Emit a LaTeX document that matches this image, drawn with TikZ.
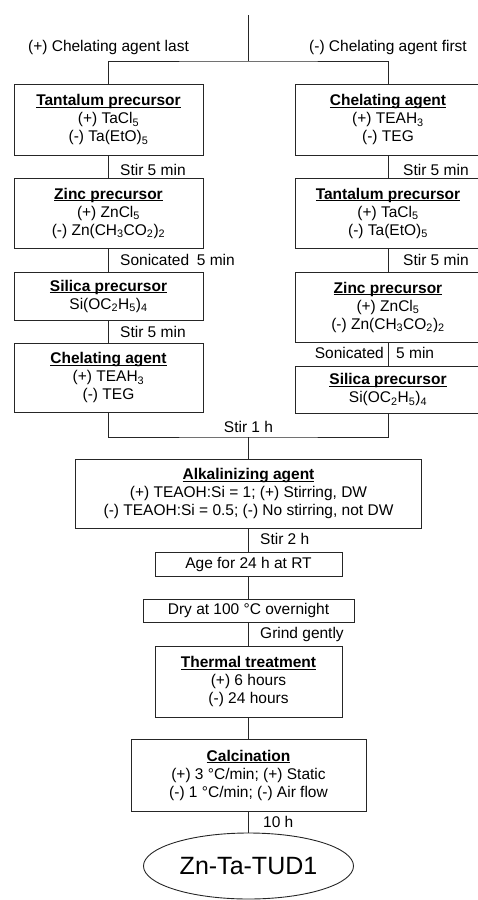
\documentclass[tikz,border=0pt]{standalone}
\usepackage{fontspec}
\setmainfont{Liberation Sans}
\usetikzlibrary{shapes.geometric}

\newcommand{\subs}[1]{\textsubscript{#1}}
\newcommand{\steptitle}[1]{\textbf{\underline{\smash{#1}}\vphantom{#1}}}

\tikzset{
  flowline/.style={draw=black!85, line width=0.9pt},
  stepbox/.style={flowline, rectangle, align=center, inner sep=0pt,
    font=\fontsize{15.5}{18}\selectfont},
  steptext/.style={inner sep=0pt, font=\fontsize{15.5}{18}\selectfont},
  leftbox/.style={stepbox, minimum width=189pt},
  rightbox/.style={stepbox, minimum width=186pt}
}

\begin{document}
\begin{tikzpicture}[x=1pt,y=-1pt]
  \useasboundingbox (0,0) rectangle (478,900);

  % branch labels
  \node[steptext, anchor=base] (lastlbl) at (108.5,51) {(+) Chelating agent last};
  \node[steptext, anchor=base] (firstlbl) at (388,51) {(-) Chelating agent first};

  % left column: chelating agent last
  \node[leftbox, minimum height=71pt] (lta) at (108.5,119.5)
    {\steptitle{Tantalum precursor}\\(+) TaCl\subs{5}\\(-) Ta(EtO)\subs{5}};
  \node[leftbox, minimum height=70pt] (lzn) at (108.5,213)
    {\steptitle{Zinc precursor}\\(+) ZnCl\subs{5}\\(-) Zn(CH\subs{3}CO\subs{2})\subs{2}};
  \node[leftbox, minimum height=48pt] (lsi) at (108.5,296)
    {\steptitle{Silica precursor}\\Si(OC\subs{2}H\subs{5})\subs{4}};
  \node[leftbox, minimum height=69pt] (lch) at (108.5,377.5)
    {\steptitle{Chelating agent}\\(+) TEAH\subs{3}\\(-) TEG};

  % right column: chelating agent first
  \node[rightbox, minimum height=71pt] (rch) at (388,119.5)
    {\steptitle{Chelating agent}\\(+) TEAH\subs{3}\\(-) TEG};
  \node[rightbox, minimum height=70pt] (rta) at (388,213)
    {\steptitle{Tantalum precursor}\\(+) TaCl\subs{5}\\(-) Ta(EtO)\subs{5}};
  \node[rightbox, minimum height=70pt] (rzn) at (388,307)
    {\steptitle{Zinc precursor}\\(+) ZnCl\subs{5}\\(-) Zn(CH\subs{3}CO\subs{2})\subs{2}};
  \node[rightbox, minimum height=47pt] (rsi) at (388,389.5)
    {\steptitle{Silica precursor}\\Si(OC\subs{2}H\subs{5})\subs{4}};

  % common steps
  \node[stepbox, minimum width=346pt, minimum height=69pt] (alk) at (248.5,493.5)
    {\steptitle{Alkalinizing agent}\\(+) TEAOH:Si = 1; (+) Stirring, DW\\(-) TEAOH:Si = 0.5; (-) No stirring, not DW};
  \node[stepbox, minimum width=187pt, minimum height=24pt] (age) at (248.5,564)
    {Age for 24 h at RT};
  \node[stepbox, minimum width=211pt, minimum height=23pt] (dry) at (248.5,610.5)
    {Dry at 100 °C overnight};
  \node[stepbox, minimum width=187pt, minimum height=71pt] (thermal) at (248.5,681.5)
    {\steptitle{Thermal treatment}\\(+) 6 hours\\(-) 24 hours};
  \node[stepbox, minimum width=235pt, minimum height=72pt] (calc) at (248.5,775)
    {\steptitle{Calcination}\\(+) 3 °C/min; (+) Static\\(-) 1 °C/min; (-) Air flow};
  \node[flowline, ellipse, inner sep=0pt, minimum width=210pt, minimum height=66pt,
    font=\fontsize{25}{30}\selectfont] (product) at (248.5,866) {Zn-Ta-TUD1};

  % step conditions
  \node[steptext, anchor=base west] (lstir1) at (120,175) {Stir 5 min};
  \node[steptext, anchor=base west] (lsonic) at (120,265.5) {Sonicated\enspace 5 min};
  \node[steptext, anchor=base west] (lstir2) at (120,337.5) {Stir 5 min};
  \node[steptext, anchor=base west] (rstir1) at (403,175) {Stir 5 min};
  \node[steptext, anchor=base west] (rstir2) at (403,265.5) {Stir 5 min};
  \node[steptext, anchor=base east] (rsonic) at (384,358.5) {Sonicated};
  \node[steptext, anchor=base west] (rsonictime) at (396,358.5) {5 min};
  \node[steptext, anchor=base] (stirhour) at (248.5,432) {Stir 1 h};
  \node[steptext, anchor=base west] (stirtwo) at (260,544) {Stir 2 h};
  \node[steptext, anchor=base west] (grind) at (260,638) {Grind gently};
  \node[steptext, anchor=base west] (calctime) at (263,827) {10 h};

  % connectors
  \coordinate (top) at (248.5,15);
  \coordinate (split) at (248.5,61);
  \coordinate (merge) at (248.5,437);
  \draw[flowline] (top) -- (split);
  \draw[flowline] (lta.north) |- (split) -| (rch.north);
  \draw[flowline] (lta) -- (lzn);
  \draw[flowline] (lzn) -- (lsi);
  \draw[flowline] (lsi) -- (lch);
  \draw[flowline] (rch) -- (rta);
  \draw[flowline] (rta) -- (rzn);
  \draw[flowline] (rzn) -- (rsi);
  \draw[flowline] (lch.south) |- (merge) -| (rsi.south);
  \draw[flowline] (merge) -- (alk);
  \draw[flowline] (alk) -- (age);
  \draw[flowline] (age) -- (dry);
  \draw[flowline] (dry) -- (thermal);
  \draw[flowline] (thermal) -- (calc);
  \draw[flowline] (calc) -- (product);
\end{tikzpicture}
\end{document}
